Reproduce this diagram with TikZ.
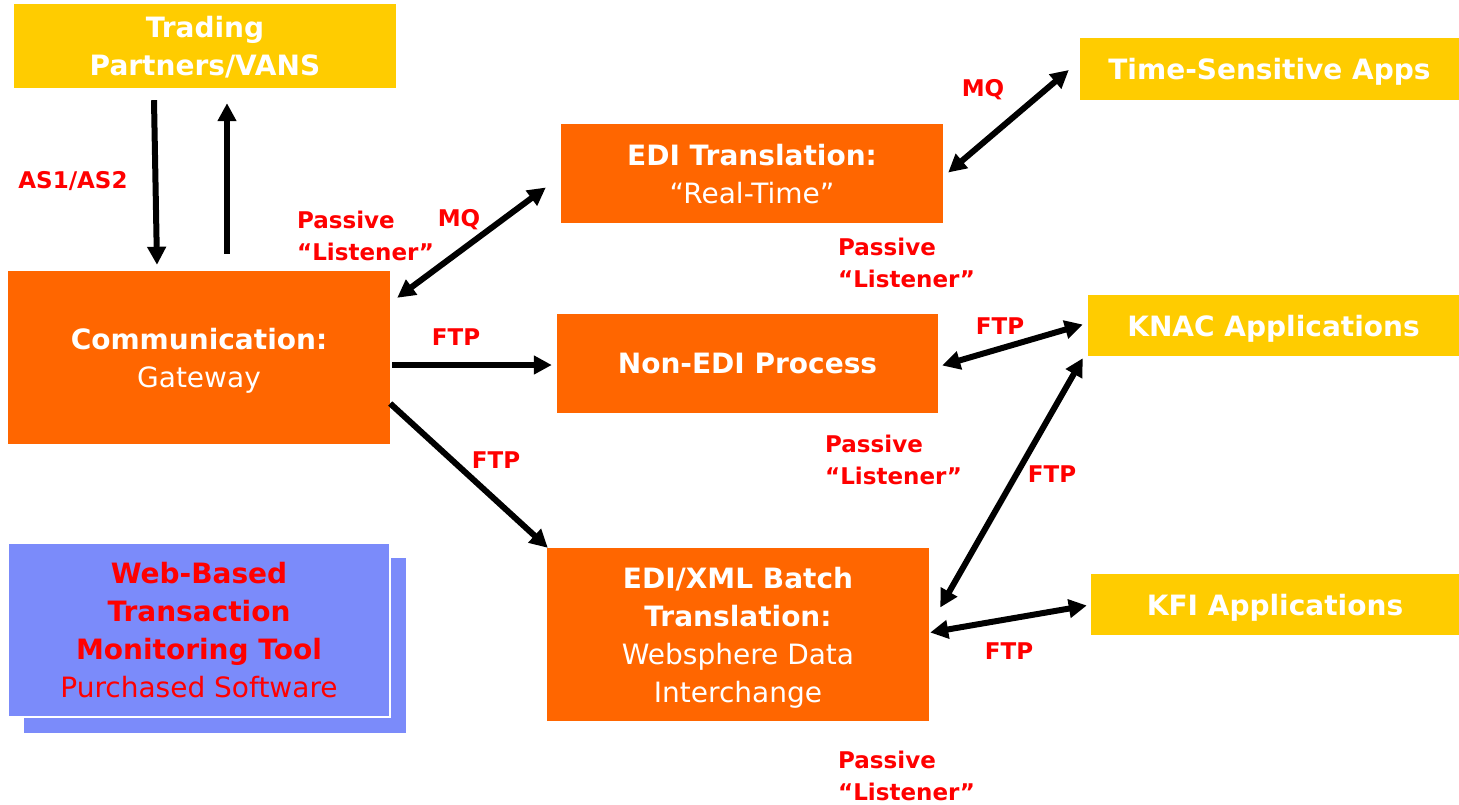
\documentclass[tikz,border=0pt]{standalone}
\usepackage{fontspec}
\setmainfont{DejaVu Sans}
\usetikzlibrary{arrows.meta}
\definecolor{orng}{HTML}{FF6600}
\definecolor{ylw}{HTML}{FFCC00}
\definecolor{blu}{HTML}{7B8BFA}
\definecolor{rd}{HTML}{FF0000}
\tikzset{
  box/.style={inner sep=0pt, align=center, text=white, text depth=0pt, font=\fontsize{28}{38}\selectfont},
  obox/.style={box, fill=orng},
  ybox/.style={box, fill=ylw},
  lbl/.style={text=rd, font=\fontsize{23}{32}\selectfont\bfseries, inner sep=0pt, align=left},
  arr/.style={line width=6pt, -{Triangle[length=18pt,width=18pt]}},
  darr/.style={line width=6pt, {Triangle[length=18pt,width=18pt]}-{Triangle[length=18pt,width=18pt]}},
}
\begin{document}
\begin{tikzpicture}[x=1pt,y=-1pt]
\useasboundingbox (0,0) rectangle (1459,804);
% boxes
\node[ybox, text depth=-5pt, minimum width=382pt, minimum height=84pt] (tp) at (205,46) {\textbf{Trading}\\\textbf{Partners/VANS}};
\node[ybox, minimum width=379pt, minimum height=62pt] (ts) at (1269.5,69) {\textbf{Time-Sensitive Apps}};
\node[obox, minimum width=382pt, minimum height=99pt] (edi) at (752,173.5) {\textbf{EDI Translation:}\\“Real-Time”};
\node[obox, minimum width=382pt, minimum height=173pt] (comm) at (199,357.5) {\textbf{Communication:}\\Gateway};
\node[obox, minimum width=381pt, minimum height=99pt] (nonedi) at (747.5,363.5) {\textbf{Non-EDI Process}};
\node[ybox, minimum width=371pt, minimum height=61pt] (knac) at (1273.5,325.5) {\textbf{KNAC Applications}};
\node[obox, minimum width=382pt, minimum height=173pt] (batch) at (738,634.5) {\textbf{EDI/XML Batch}\\\textbf{Translation:}\\Websphere Data\\Interchange};
\node[ybox, minimum width=368pt, minimum height=61pt] (kfi) at (1275,604.5) {\textbf{KFI Applications}};
\node[fill=blu, minimum width=382pt, minimum height=175pt, inner sep=0pt] (webshadow) at (215,645.5) {};
\node[box, fill=blu, draw=white, line width=1.5pt, text=rd, minimum width=382pt, minimum height=174pt] (web) at (199,630) {\textbf{Web-Based}\\\textbf{Transaction}\\\textbf{Monitoring Tool}\\Purchased Software};
% arrows
\draw[arr] ([xshift=-51pt,yshift=-12pt]tp.south) -- ([xshift=-42pt,yshift=6pt]comm.north);
\draw[arr] ([xshift=28pt,yshift=17pt]comm.north) -- ([xshift=22pt,yshift=-15pt]tp.south);
\draw[darr] ([xshift=7pt,yshift=-27pt]comm.north east) -- ([xshift=-15pt,yshift=-14pt]edi.west);
\draw[arr] ([xshift=2pt,yshift=-7.5pt]comm.east) -- ([xshift=-5pt,yshift=-1.5pt]nonedi.west);
\draw[arr] ([yshift=-46pt]comm.east) -- ([xshift=1pt]batch.north west);
\draw[darr] ([xshift=5pt,yshift=1pt]edi.east) -- ([xshift=-11pt,yshift=-1pt]ts.west);
\draw[darr] ([xshift=4pt,yshift=-2pt]nonedi.east) -- ([xshift=-5pt,yshift=1pt]knac.west);
\draw[darr] ([xshift=11pt,yshift=27pt]batch.east) -- ([xshift=-5pt,yshift=-2pt]knac.south west);
\draw[darr] ([xshift=1pt,yshift=2pt]batch.east) -- ([xshift=-4pt,yshift=-1pt]kfi.west);
% labels
\node[lbl] (l1) at (73,181) {AS1/AS2};
\node[lbl, anchor=west] (l2) at (297,236) {Passive\\“Listener”};
\node[lbl] (l3) at (459,220) {MQ};
\node[lbl] (l4) at (983,90) {MQ};
\node[lbl, anchor=west] (l5) at (838,263) {Passive\\“Listener”};
\node[lbl] (l6) at (456,337) {FTP};
\node[lbl] (l7) at (1000,326) {FTP};
\node[lbl, anchor=west] (l8) at (825,460) {Passive\\“Listener”};
\node[lbl] (l9) at (496,460) {FTP};
\node[lbl] (l10) at (1052,474) {FTP};
\node[lbl] (l11) at (1009,651) {FTP};
\node[lbl, anchor=west] (l12) at (838,776) {Passive\\“Listener”};
\end{tikzpicture}
\end{document}
